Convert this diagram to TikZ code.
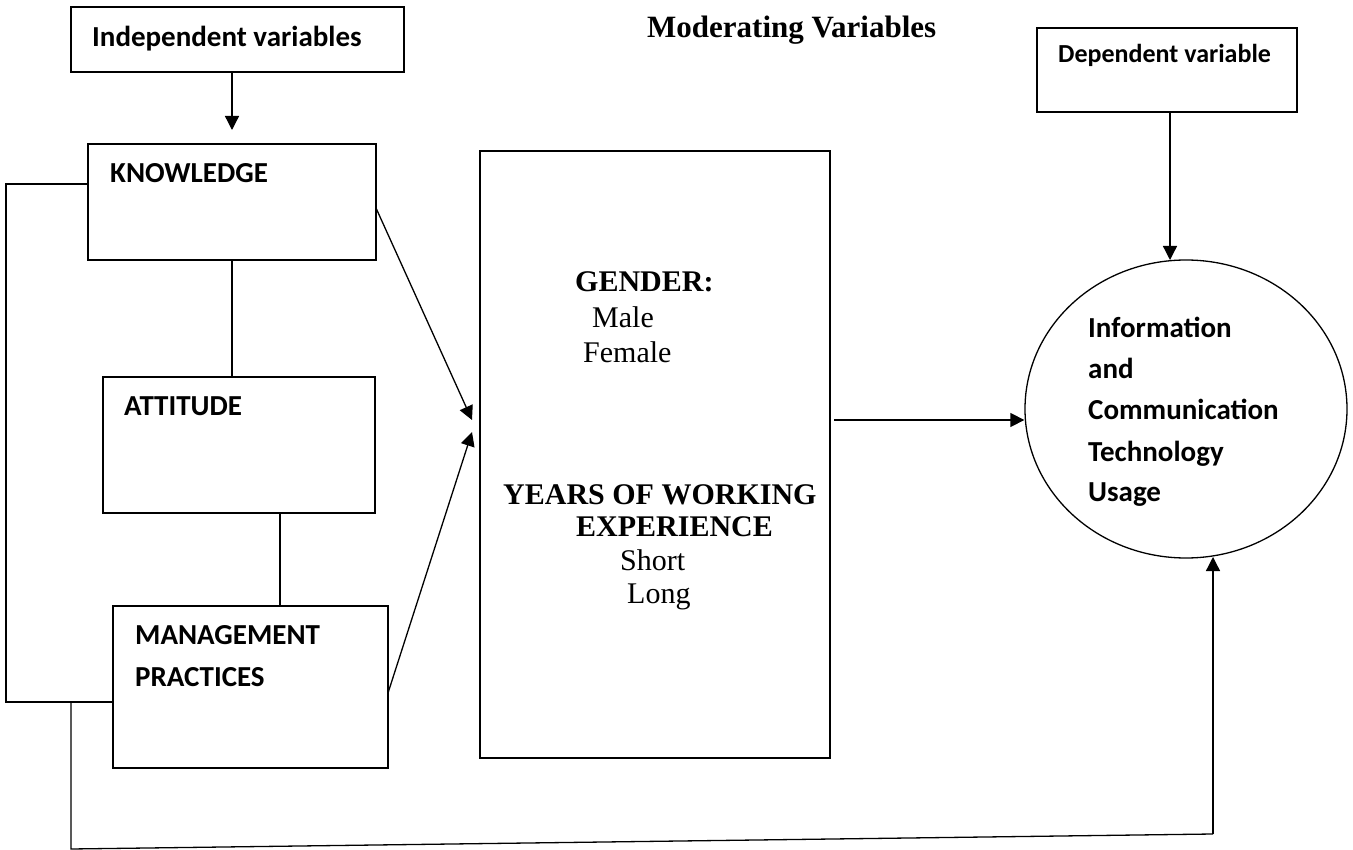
\documentclass[tikz,border=0pt]{standalone}
\usepackage{fontspec}
\setmainfont{Liberation Serif}
\newfontfamily\calfont{Carlito}
\usetikzlibrary{arrows.meta,shapes.geometric,calc}
\begin{document}
\begin{tikzpicture}[x=1pt,y=-1pt,
  box/.style={draw, line width=1.6pt, inner sep=0pt, rectangle},
  ctxt/.style={anchor=base west, inner sep=0pt, font=\calfont\bfseries\fontsize{29}{34}\selectfont},
  dtxt/.style={anchor=base west, inner sep=0pt, font=\calfont\bfseries\fontsize{26}{30}\selectfont},
  tb/.style={anchor=base west, inner sep=0pt, font=\bfseries\fontsize{30}{34}\selectfont},
  tr/.style={anchor=base west, inner sep=0pt, font=\fontsize{30}{34}\selectfont},
  ln/.style={line width=1.3pt},
  arr/.style={line width=1.3pt, -{Triangle[length=14pt,width=14pt]}}]
\useasboundingbox (0,0) rectangle (1353,850);

% title
\node[anchor=base west, inner sep=0pt, font=\bfseries\fontsize{31}{36}\selectfont] (title) at (647,38) {Moderating Variables};

% left column boxes
\node[box, minimum width=333pt, minimum height=65pt] (indep) at (237.5,39.5) {};
\node[ctxt] (indepT) at (92,47) {Independent variables};

\node[box, minimum width=288pt, minimum height=116pt] (know) at (232,202) {};
\node[ctxt] (knowT) at (110,183) {KNOWLEDGE};

\node[box, minimum width=272pt, minimum height=136pt] (att) at (239,445) {};
\node[ctxt] (attT) at (124,416) {ATTITUDE};

\node[box, minimum width=275pt, minimum height=162pt] (mgmt) at (250.5,687) {};
\node[ctxt] (mgmtT1) at (135,644) {MANAGEMENT};
\node[ctxt] (mgmtT2) at (135,686) {PRACTICES};

% middle box
\node[box, minimum width=350pt, minimum height=607pt] (mid) at (655,454.5) {};
\node[tb] (gen) at (575,292) {GENDER:};
\node[tr] (male) at (592,328) {Male};
\node[tr] (female) at (583,363) {Female};
\node[tb] (years) at (503,504) {YEARS OF WORKING};
\node[tb] (exper) at (576,536) {EXPERIENCE};
\node[tr] (short) at (620,570) {Short};
\node[tr] (long) at (627,603) {Long};

% right side
\node[box, minimum width=260pt, minimum height=84pt] (dep) at (1167,70) {};
\node[dtxt] (depT) at (1058,63) {Dependent variable};

\node[draw, ellipse, line width=1.3pt, inner sep=0pt, minimum width=322pt, minimum height=298pt] (circ) at (1186,409) {};
\node[ctxt] (c1) at (1088,338) {Information};
\node[ctxt] (c2) at (1088,379) {and};
\node[ctxt] (c3) at (1088,420) {Communication};
\node[ctxt] (c4) at (1088,461) {Technology};
\node[ctxt] (c5) at (1088,501) {Usage};

% coordinates
\coordinate (kTip) at (232,130);
\coordinate (kL) at (88,184);
\coordinate (lTop) at (6,184);
\coordinate (lBot) at (6,702);
\coordinate (mL) at (113,702);
\coordinate (bA) at (71,702);
\coordinate (bB) at (71,849);
\coordinate (bC) at (1213,834);
\coordinate (bTip) at (1213,557);
\coordinate (kR) at (376,208);
\coordinate (tip1) at (472,420);
\coordinate (mR) at (388,693);
\coordinate (tip2) at (472,432);
\coordinate (hA) at (834,420);
\coordinate (dA) at (1170,112);
\coordinate (dTip) at (1170,260);

% connectors
\draw[arr] (indep.south -| kTip) -- (kTip);
\draw[ln] (know.south) -- (att.north -| know.south);
\draw[ln] (att.south -| 280,0) -- (mgmt.north -| 280,0);
\draw[ln] (kL) -- (lTop) -- (lBot) -- (mL);
\draw[ln, line join=miter] (bA) -- (bB) -- (bC);
\draw[arr] (bC) -- (bTip);
\draw[arr] (kR) -- (tip1);
\draw[arr] (mR) -- (tip2);
\draw[arr] (hA) -- (circ.west |- hA);
\draw[arr] (dA) -- (dTip);
\end{tikzpicture}
\end{document}
